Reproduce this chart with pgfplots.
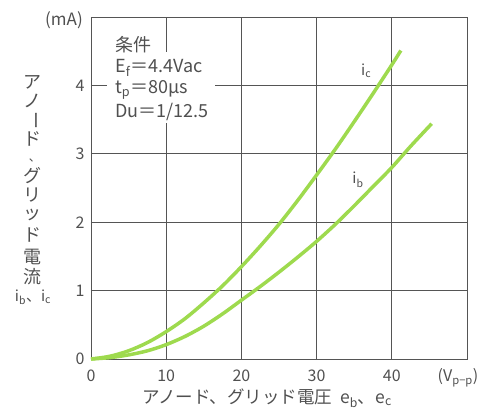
\documentclass[border=0pt]{standalone}
\usepackage{fontspec}
\setmainfont{Noto Sans CJK JP}
\usepackage{pgfplots}
\pgfplotsset{compat=1.18}
\definecolor{curve}{RGB}{158,218,78}
\definecolor{gridc}{RGB}{85,85,85}
\definecolor{txt}{RGB}{80,80,80}
\begin{document}
\begin{tikzpicture}[x=1bp,y=1bp]
\useasboundingbox (-91,-53) rectangle (397,359);
\begin{axis}[
  at={(0,0)}, anchor=south west,
  scale only axis, width=376bp, height=342bp,
  xmin=0, xmax=50, ymin=0, ymax=5,
  xtick={0,10,20,30,40}, ytick={0,1,2,3,4},
  extra x ticks={50}, extra x tick labels={},
  extra y ticks={5}, extra y tick labels={},
  grid=major,
  major grid style={draw=gridc, line width=0.8bp},
  axis line style={draw=gridc, line width=0.9bp},
  major tick length=0pt,
  /pgf/number format/assume math mode=true,
  tick label style={font=\fontsize{16bp}{16bp}\selectfont, text=txt},
  xticklabel style={yshift=-7bp},
  yticklabel style={xshift=-3bp},
  clip=false,
]
\addplot[curve, line width=3.5bp, smooth] coordinates {
(0,0) (2.5,0.04) (5,0.12) (7.5,0.24) (10,0.40) (12.5,0.59) (15,0.82) (17.5,1.07) (20,1.35) (22.5,1.65) (25,1.97) (27.5,2.32) (30,2.69) (32.5,3.07) (35,3.47) (37.5,3.88) (40,4.30) (41.2,4.51)
};
\addplot[curve, line width=3.5bp, smooth] coordinates {
(0,0) (2.5,0.02) (5,0.06) (7.5,0.12) (10,0.21) (12.5,0.33) (15,0.48) (17.5,0.66) (20,0.86) (22.5,1.06) (25,1.27) (27.5,1.49) (30,1.72) (32.5,1.97) (35,2.24) (37.5,2.52) (40,2.80) (42.5,3.11) (45.3,3.44)
};
\node[text=txt, font=\fontsize{15bp}{15bp}\selectfont] at (axis cs:36.6,4.22) {i\textsubscript{c}};
\node[text=txt, font=\fontsize{15bp}{15bp}\selectfont] at (axis cs:35.5,2.62) {i\textsubscript{b}};
\end{axis}
% condition box
\fill[white] (16,236) rectangle (124,307);
\begin{scope}[every node/.style={text=txt, anchor=west, inner sep=0pt, font=\fontsize{18bp}{18bp}\selectfont}]
\node at (24,314) {条件};
\node at (24,291) {E\textsubscript{f}＝4.4Vac};
\node at (24,269) {t\textsubscript{p}＝80μs};
\node at (24,247) {Du＝1/12.5};
\end{scope}
% (mA)
\node[text=txt, anchor=east, inner sep=0pt, font=\fontsize{17bp}{17bp}\selectfont] at (-8,339) {(mA)};
% y label stack
\begin{scope}[every node/.style={text=txt, font=\fontsize{18bp}{18bp}\selectfont, inner sep=0pt}]
\node at (-58,277) {ア};
\node at (-58,258) {ノ};
\node[rotate=-90] at (-58,239) {ー};
\node at (-58,220) {ド};
\node[font=\fontsize{12bp}{12bp}\selectfont] at (-56,199) {、};
\node at (-58,183) {グ};
\node at (-58,164) {リ};
\node at (-58,144) {ッ};
\node at (-58,124) {ド};
\node at (-58,102) {電};
\node at (-58,82) {流};
\end{scope}
\node[text=txt, font=\fontsize{15bp}{15bp}\selectfont, inner sep=0pt] at (-58,62) {i\textsubscript{b}、i\textsubscript{c}};
% x unit
\node[text=txt, font=\fontsize{16bp}{16bp}\selectfont] at (367,-19) {(V\textsubscript{p−p})};
% x label
\node[text=txt, font=\fontsize{17.5bp}{17.5bp}\selectfont] at (176,-39) {アノード、グリッド電圧\ \ e\textsubscript{b}、e\textsubscript{c}};
\end{tikzpicture}
\end{document}
